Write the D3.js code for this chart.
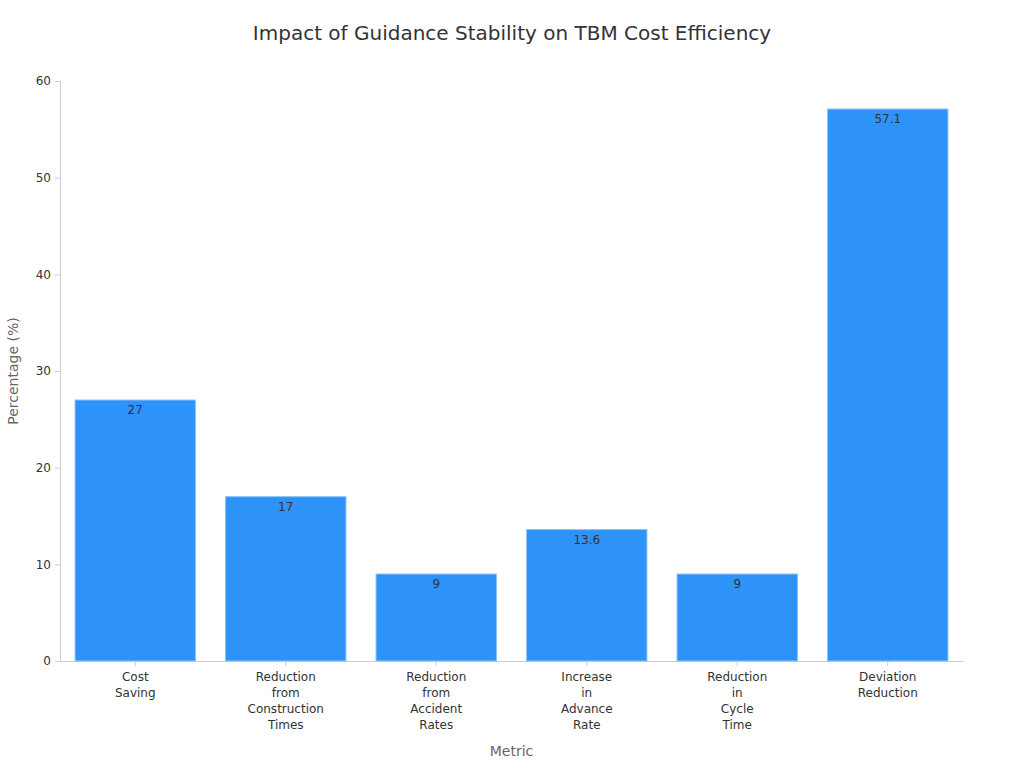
<!doctype html>
<html>
<head>
    <meta charset="utf-8">
    <title>Impact of Guidance Stability on TBM Cost Efficiency</title>
    <style>
    body { margin: 0; background: #fff; font-family: "DejaVu Sans", sans-serif; }
    .bar { fill: #2e93f8; stroke: #8cc3fb; stroke-width: 1px; }
    .axis path, .axis line { stroke: #ccc; }
    .axis text { fill: #333; font-size: 12px; font-family: "DejaVu Sans", sans-serif; }
    </style>
    <script src="https://cdn.jsdelivr.net/npm/d3@7"></script>
</head>
<body>
    <svg width="1024" height="768"></svg>
    <script>
    var categories = [
        ["Cost", "Saving"],
        ["Reduction", "from", "Construction", "Times"],
        ["Reduction", "from", "Accident", "Rates"],
        ["Increase", "in", "Advance", "Rate"],
        ["Reduction", "in", "Cycle", "Time"],
        ["Deviation", "Reduction"]
    ];
    var values = [27, 17, 9, 13.6, 9, 57.1];
    var yTicks = [0, 10, 20, 30, 40, 50, 60];

    var svg = d3.select("svg"),
        margin = { top: 81, right: 61, bottom: 107, left: 60 },
        width = 1024 - margin.left - margin.right,
        height = 768 - margin.top - margin.bottom,
        g = svg.append("g").attr("transform", "translate(" + margin.left + "," + margin.top + ")");

    var x = d3.scaleBand()
        .domain(d3.range(categories.length))
        .range([0, width])
        .paddingInner(0.2)
        .paddingOuter(0.1);

    var y = d3.scaleLinear()
        .domain([0, 60])
        .range([height, 0]);

    // y axis
    var yAxis = g.append("g")
        .attr("class", "axis")
        .call(d3.axisLeft(y).tickValues(yTicks).tickSize(5).tickPadding(4));
    yAxis.selectAll(".tick line").attr("stroke", "#999");

    // x axis
    var xAxis = g.append("g")
        .attr("class", "axis")
        .attr("transform", "translate(0," + height + ")")
        .call(d3.axisBottom(x).tickSize(5).tickSizeOuter(0).tickFormat(""));
    xAxis.selectAll(".tick line").attr("stroke", "#999");
    xAxis.selectAll(".tick").each(function(d) {
        var t = d3.select(this).append("text")
            .attr("fill", "#333")
            .attr("y", 20)
            .attr("text-anchor", "middle");
        categories[d].forEach(function(line, i) {
            t.append("tspan").attr("x", 0).attr("dy", i === 0 ? 0 : 16).text(line);
        });
    });

    g.selectAll(".bar")
        .data(values)
        .enter().append("rect")
        .attr("class", "bar")
        .attr("x", function(d, i) { return x(i); })
        .attr("y", function(d) { return y(d); })
        .attr("width", x.bandwidth())
        .attr("height", function(d) { return height - y(d); });

    g.selectAll(".label")
        .data(values)
        .enter().append("text")
        .attr("class", "label")
        .attr("x", function(d, i) { return x(i) + x.bandwidth() / 2; })
        .attr("y", function(d) { return y(d) + 14; })
        .attr("text-anchor", "middle")
        .attr("fill", "#333")
        .style("font-size", "12px")
        .text(function(d) { return d; });

    // title
    svg.append("text")
        .attr("x", 512)
        .attr("y", 40)
        .attr("text-anchor", "middle")
        .attr("fill", "#333")
        .style("font-size", "20px")
        .text("Impact of Guidance Stability on TBM Cost Efficiency");

    svg.append("text")
        .attr("x", margin.left + width / 2)
        .attr("y", 756)
        .attr("text-anchor", "middle")
        .attr("fill", "#666")
        .style("font-size", "14px")
        .text("Metric");

    svg.append("text")
        .attr("transform", "translate(18," + (margin.top + height / 2) + ") rotate(-90)")
        .attr("text-anchor", "middle")
        .attr("fill", "#666")
        .style("font-size", "14px")
        .text("Percentage (%)");
    </script>
</body>
</html>
